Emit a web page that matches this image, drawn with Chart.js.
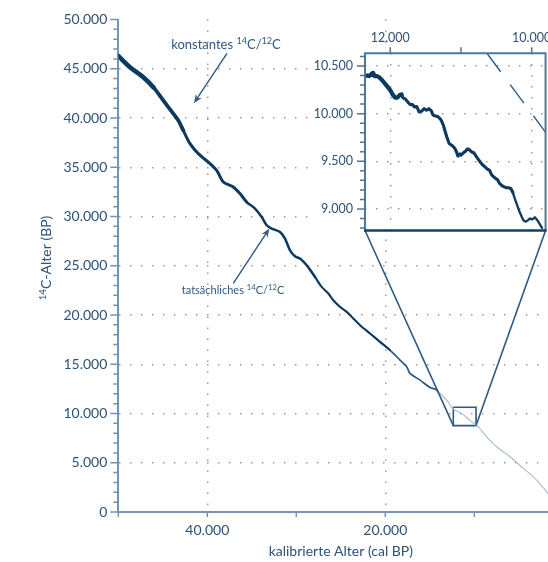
<!DOCTYPE html>
<html><head><meta charset="utf-8">
<script src="https://cdn.jsdelivr.net/npm/chart.js@4.4.1/dist/chart.umd.min.js"></script>
<style>
html,body{margin:0;padding:0;background:#fff;overflow:hidden}
#wrap{position:relative;width:548px;height:562px;overflow:hidden;background:#fff}
canvas{position:absolute;display:block}
</style></head><body>
<div id="wrap">
<canvas id="main" width="600" height="562" style="left:0;top:0;width:600px;height:562px"></canvas>
<canvas id="inset" width="260" height="250" style="left:300px;top:0;width:260px;height:250px"></canvas>
</div>
<script>
// ---- data ----
const calAge = [50000, 48685, 47191, 46067, 44944, 43820, 43258, 42697, 41944, 41011, 39697, 38944, 38202, 37079, 36326, 35573, 34640, 33888, 33326, 32764, 31831, 31270, 30708, 30146, 29584, 28831, 28416, 27898, 27146, 26404, 25843, 25090, 24337, 23596, 22843, 21719, 20596, 19472, 18348, 17596, 17225, 16101, 14977, 14416, 14045, 13101, 12360, 11416, 10483, 9550, 8607, 7483, 5989, 4494, 2989, 1720];
const c14Age = [46300, 45162, 44148, 43134, 41785, 40436, 39757, 38742, 37394, 36379, 35365, 34686, 33499, 32992, 32323, 31471, 30801, 29949, 29108, 28773, 28428, 27758, 26572, 25964, 25730, 25051, 24544, 23864, 22850, 22181, 21501, 20822, 20314, 19645, 18966, 18124, 17272, 16430, 15416, 14736, 14067, 13387, 12647, 12475, 12201, 11359, 10450, 10000, 9300, 8651, 7637, 6623, 5608, 4432, 3245, 1897];

const insetCal = [12357, 12325, 12297, 12265, 12242, 12220, 12188, 12160, 12128, 12096, 12060, 12023, 11991, 11968, 11931, 11899, 11867, 11840, 11822, 11785, 11748, 11716, 11684, 11657, 11625, 11593, 11556, 11520, 11487, 11455, 11419, 11396, 11364, 11327, 11291, 11272, 11245, 11227, 11199, 11167, 11121, 11089, 11062, 11044, 11016, 10998, 10970, 10938, 10906, 10879, 10847, 10815, 10787, 10755, 10723, 10696, 10664, 10632, 10595, 10572, 10550, 10513, 10481, 10458, 10421, 10389, 10357, 10321, 10293, 10266, 10238, 10206, 10174, 10138, 10115, 10083, 10055, 10023, 9991, 9955, 9918, 9886, 9854];
const insetC14 = [10394, 10401, 10394, 10417, 10427, 10394, 10394, 10384, 10361, 10334, 10301, 10268, 10235, 10202, 10168, 10168, 10195, 10202, 10168, 10152, 10119, 10095, 10095, 10069, 10075, 10019, 10026, 10052, 10036, 10052, 10029, 9986, 9976, 9969, 9943, 9919, 9870, 9820, 9753, 9687, 9664, 9637, 9597, 9554, 9577, 9564, 9587, 9604, 9630, 9620, 9597, 9587, 9554, 9521, 9488, 9464, 9444, 9421, 9405, 9365, 9345, 9322, 9305, 9272, 9245, 9232, 9222, 9222, 9212, 9172, 9106, 9040, 8973, 8913, 8880, 8867, 8880, 8900, 8890, 8913, 8880, 8840, 8800];

const insetCalRange = [9804, 12357];
const insetC14Range = [8774, 10633];
const constantAge = [10633, 9700];          // 1:1 line (14C age = cal age)
const mainXTicks = [50000, 40000, 30000, 20000, 10000, 0];
const mainXLabelTicks = [40000, 20000, 0];
const insetXTicks = [12000, 11000, 10000];
const insetXLabelTicks = [12000, 10000];

// ---- styles ----
const FONT = 'Lato';
const LABEL = '#2c5278';
const AXIS = '#7396b6';
const GRID = '#9a9a9a';
const DARK = '#0c3a5e';
const BOX = '#2e5a80';
Chart.defaults.font.family = FONT;

const fmt = v => String(v).replace(/\B(?=(\d{3})+(?!\d))/g, '.');

function supText(ctx, parts, x, y, size, color) {
  ctx.save();
  ctx.fillStyle = color;
  ctx.textAlign = 'left';
  ctx.textBaseline = 'alphabetic';
  const normal = size + 'px ' + FONT, small = (size * 0.7).toFixed(1) + 'px ' + FONT;
  let total = 0;
  for (const [t, s] of parts) { ctx.font = s ? small : normal; total += ctx.measureText(t).width; }
  let cx = x - total / 2;
  for (const [t, s] of parts) {
    ctx.font = s ? small : normal;
    ctx.fillText(t, cx, s ? y - size * 0.38 : y);
    cx += ctx.measureText(t).width;
  }
  ctx.restore();
}
function arrow(ctx, x1, y1, x2, y2, color) {
  const a = Math.atan2(y2 - y1, x2 - x1), L = 9, W = 3.6;
  const c = Math.cos(a), s = Math.sin(a);
  ctx.save();
  ctx.strokeStyle = color; ctx.fillStyle = color; ctx.lineWidth = 1.4;
  ctx.beginPath(); ctx.moveTo(x1, y1); ctx.lineTo(x2 - c * L * 0.6, y2 - s * L * 0.6); ctx.stroke();
  ctx.beginPath(); ctx.moveTo(x2, y2);
  ctx.lineTo(x2 - L * c + W * s, y2 - L * s - W * c);
  ctx.lineTo(x2 - L * 0.65 * c, y2 - L * 0.65 * s);
  ctx.lineTo(x2 - L * c - W * s, y2 - L * s + W * c);
  ctx.closePath(); ctx.fill();
  ctx.restore();
}
const stepTicks = (min, max, step) => { const out = []; for (let v = Math.ceil(min / step) * step; v <= max; v += step) out.push({ value: v }); return out; };

// ---- inset chart ----
const insetDecor = {
  id: 'insetDecor',
  beforeDraw(chart) {
    const { ctx, chartArea: a } = chart;
    ctx.save();
    ctx.fillStyle = '#fff';
    ctx.fillRect(8, a.top, a.right - 8, a.bottom - a.top);
    ctx.restore();
  },
  afterDraw(chart) {
    const { ctx, chartArea: a, scales: { x, y } } = chart;
    ctx.save();
    ctx.strokeStyle = '#4f769b'; ctx.lineWidth = 1.5;
    ctx.beginPath();
    x.ticks.forEach(t => { const px = x.getPixelForValue(t.value); ctx.moveTo(px, a.top); ctx.lineTo(px, a.top - 6); });
    y.ticks.forEach(t => { const py = y.getPixelForValue(t.value); const L = t.value % 500 === 0 ? 8 : 5; ctx.moveTo(a.left, py); ctx.lineTo(a.left - L, py); });
    ctx.stroke();
    // frame
    ctx.lineWidth = 2;
    ctx.beginPath();
    ctx.moveTo(a.left, a.bottom); ctx.lineTo(a.left, a.top); ctx.lineTo(a.right, a.top); ctx.lineTo(a.right, a.bottom);
    ctx.stroke();
    ctx.strokeStyle = '#153f63'; ctx.lineWidth = 2.4;
    ctx.beginPath(); ctx.moveTo(a.left - 1, a.bottom); ctx.lineTo(a.right + 1, a.bottom); ctx.stroke();
    ctx.restore();
  }
};

const insetWidth = x => x > 11850 ? 4.2 : x > 10270 ? 3.1 : 2.3;
const insetChart = new Chart(document.getElementById('inset'), {
  type: 'line',
  data: {
    datasets: [
      {
        data: insetCal.map((c, i) => ({ x: c, y: insetC14[i] })),
        borderColor: DARK, borderWidth: 3, pointRadius: 0, tension: 0,
        borderJoinStyle: 'round', borderCapStyle: 'round',
        segment: { borderWidth: c => insetWidth(c.p0.parsed.x) }
      },
      {
        data: constantAge.map(v => ({ x: v, y: v })),
        borderColor: BOX, borderWidth: 1.4, pointRadius: 0, borderDash: [23, 16]
      }
    ]
  },
  options: {
    responsive: false, animation: false, events: [],
    layout: { padding: { top: 0, left: 0, right: 9, bottom: 10 } },
    plugins: { legend: { display: false }, tooltip: { enabled: false } },
    scales: {
      x: {
        type: 'linear', position: 'top', reverse: true,
        min: insetCalRange[0], max: insetCalRange[1],
        afterBuildTicks: s => { s.ticks = insetXTicks.map(v => ({ value: v })); },
        ticks: { autoSkip: false, maxRotation: 0, padding: 8, color: LABEL, font: { size: 12.5 },
          callback: v => insetXLabelTicks.includes(v) ? fmt(v) : '' },
        grid: { drawTicks: false, lineWidth: 1.5,
          color: c => (c.tick && insetXLabelTicks.includes(c.tick.value)) ? GRID : 'rgba(0,0,0,0)' },
        border: { display: false, dash: [1.5, 9.5] },
        afterFit: s => { s.height = 53.3; }
      },
      y: {
        type: 'linear', min: insetC14Range[0], max: insetC14Range[1],
        afterBuildTicks: s => { s.ticks = stepTicks(insetC14Range[0], insetC14Range[1], 100); },
        ticks: { autoSkip: false, padding: 12, color: LABEL, font: { size: 12.5 },
          callback: v => v % 500 === 0 ? fmt(v) : '' },
        grid: { drawTicks: false, lineWidth: 1.5,
          color: c => (c.tick && c.tick.value % 500 === 0) ? GRID : 'rgba(0,0,0,0)' },
        border: { display: false, dash: [1.5, 9.5] },
        afterFit: s => { s.width = 65; }
      }
    }
  },
  plugins: [insetDecor]
});

// ---- main chart ----
const INSET_LEFT = 300, INSET_TOP = 0;
const mainDecor = {
  id: 'mainDecor',
  afterDraw(chart) {
    const { ctx, chartArea: a, scales: { x, y } } = chart;
    ctx.save();
    // tick marks
    ctx.strokeStyle = AXIS; ctx.lineWidth = 1.5;
    ctx.beginPath();
    y.ticks.forEach(t => { const py = y.getPixelForValue(t.value); const L = t.value % 5000 === 0 ? 8 : 5; ctx.moveTo(a.left, py); ctx.lineTo(a.left - L, py); });
    x.ticks.forEach(t => { const px = x.getPixelForValue(t.value); ctx.moveTo(px, a.bottom); ctx.lineTo(px, a.bottom + 5); });
    ctx.stroke();
    // connector lines from zoom box to inset
    const ia = insetChart.chartArea;
    const bx1 = x.getPixelForValue(insetCalRange[1]), bx2 = x.getPixelForValue(insetCalRange[0]);
    const by = y.getPixelForValue(insetC14Range[0]);
    ctx.strokeStyle = BOX; ctx.lineWidth = 1.6;
    ctx.beginPath();
    ctx.moveTo(bx1, by); ctx.lineTo(INSET_LEFT + ia.left, INSET_TOP + ia.bottom);
    ctx.moveTo(bx2, by); ctx.lineTo(INSET_LEFT + ia.right, INSET_TOP + ia.bottom);
    ctx.stroke();
    // annotations
    const ac = '#2f5a82';
    supText(ctx, [['konstantes ', 0], ['14', 1], ['C/', 0], ['12', 1], ['C', 0]],
      x.getPixelForValue(37900), y.getPixelForValue(47000), 13, ac);
    arrow(ctx, x.getPixelForValue(37790), y.getPixelForValue(46550), x.getPixelForValue(41500), y.getPixelForValue(41500), ac);
    supText(ctx, [['tatsächliches ', 0], ['14', 1], ['C/', 0], ['12', 1], ['C', 0]],
      x.getPixelForValue(37110), y.getPixelForValue(22100), 11, ac);
    arrow(ctx, x.getPixelForValue(37080), y.getPixelForValue(23200), x.getPixelForValue(33030), y.getPixelForValue(28770), ac);
    // axis titles
    ctx.fillStyle = LABEL; ctx.font = '14px ' + FONT; ctx.textAlign = 'center'; ctx.textBaseline = 'middle';
    ctx.fillText('kalibrierte Alter (cal BP)', (a.left + a.right) / 2, 551);
    ctx.save();
    ctx.translate(51, 258); ctx.rotate(-Math.PI / 2);
    supText(ctx, [['14', 1], ['C-Alter (BP)', 0]], 0, 0, 14, LABEL);
    ctx.restore();
    ctx.restore();
  }
};

const widthFor = v => v > 47000 ? 4.6 : v > 43000 ? 3.8 : v > 36000 ? 3 : v > 28000 ? 2.5 : v > 20000 ? 2.1 : v > 14200 ? 1.7 : 1.1;
const colorFor = v => v > 20000 ? DARK : v > 14200 ? '#2a5880' : '#a7bdd0';

new Chart(document.getElementById('main'), {
  type: 'line',
  data: {
    datasets: [
      {
        data: calAge.map((c, i) => ({ x: c, y: c14Age[i] })),
        borderColor: DARK, borderWidth: 2, pointRadius: 0, tension: 0.3,
        borderJoinStyle: 'round', borderCapStyle: 'round',
        segment: { borderWidth: c => widthFor(c.p0.parsed.x), borderColor: c => colorFor(c.p0.parsed.x) }
      },
      {
        data: [
          { x: insetCalRange[1], y: insetC14Range[1] }, { x: insetCalRange[0], y: insetC14Range[1] },
          { x: insetCalRange[0], y: insetC14Range[0] }, { x: insetCalRange[1], y: insetC14Range[0] },
          { x: insetCalRange[1], y: insetC14Range[1] }
        ],
        borderColor: BOX, borderWidth: 1.6, pointRadius: 0, tension: 0
      }
    ]
  },
  options: {
    responsive: false, animation: false, events: [],
    layout: { padding: { top: 19.5, right: 36.7, left: 0, bottom: 0 } },
    plugins: { legend: { display: false }, tooltip: { enabled: false } },
    scales: {
      x: {
        type: 'linear', reverse: true, min: 0, max: 50000,
        afterBuildTicks: s => { s.ticks = mainXTicks.map(v => ({ value: v })); },
        ticks: { autoSkip: false, maxRotation: 0, padding: 10, color: LABEL, font: { size: 14 },
          callback: v => mainXLabelTicks.includes(v) ? fmt(v) : '' },
        grid: { drawTicks: false, lineWidth: 1.5,
          color: c => (c.tick && mainXLabelTicks.includes(c.tick.value) && c.tick.value !== 0) ? GRID : 'rgba(0,0,0,0)' },
        border: { display: true, color: AXIS, width: 2, dash: [1.5, 9.5] },
        afterFit: s => { s.height = 50; }
      },
      y: {
        type: 'linear', min: 0, max: 50000,
        afterBuildTicks: s => { s.ticks = stepTicks(0, 50000, 1000); },
        ticks: { autoSkip: false, padding: 11, color: LABEL, font: { size: 14 },
          callback: v => v % 5000 === 0 ? fmt(v) : '' },
        grid: { drawTicks: false, lineWidth: 1.5,
          color: c => (c.tick && c.tick.value % 5000 === 0 && c.tick.value !== 0 && c.tick.value !== 50000) ? GRID : 'rgba(0,0,0,0)' },
        border: { display: true, color: AXIS, width: 2, dash: [1.5, 9.5] },
        afterFit: s => { s.width = 118.3; }
      }
    }
  },
  plugins: [mainDecor]
});
</script>
</body></html>
